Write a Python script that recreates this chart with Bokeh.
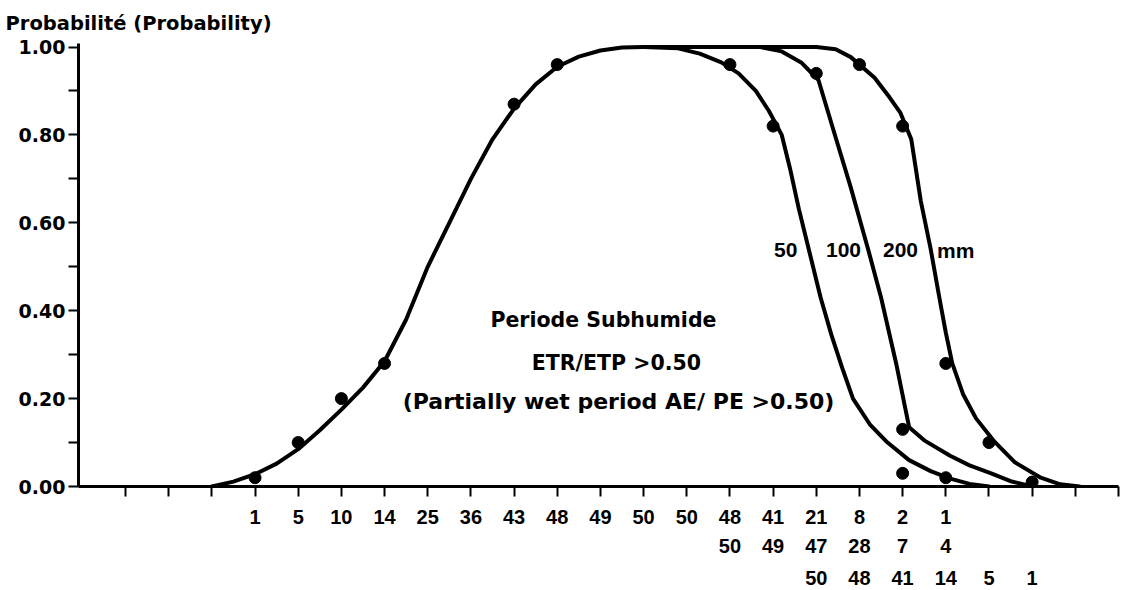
from bokeh.plotting import figure
from bokeh.models import FixedTicker, LinearAxis, Range1d
from bokeh.core.properties import value
from bokeh.embed import file_html
from bokeh.resources import INLINE

# ---------------- data ----------------
x_ticks = list(range(1, 25))
row1_ticks = list(range(4, 21))
row1_labels = ["1", "5", "10", "14", "25", "36", "43", "48", "49", "50", "50",
               "48", "41", "21", "8", "2", "1"]
row2_ticks = list(range(15, 21))
row2_labels = ["50", "49", "47", "28", "7", "4"]
row3_ticks = list(range(17, 23))
row3_labels = ["50", "48", "41", "14", "5", "1"]

y_ticks = [0.0, 0.2, 0.4, 0.6, 0.8, 1.0]
y_labels = ["0.00", "0.20", "0.40", "0.60", "0.80", "1.00"]
y_minor = [0.1, 0.3, 0.5, 0.7, 0.9]

# observed points
dots_x = [4, 5, 6, 7, 10, 11, 15, 16, 17, 18, 19, 19, 19, 20, 20, 21, 22]
dots_p = [0.02, 0.10, 0.20, 0.28, 0.87, 0.96, 0.96, 0.82, 0.94, 0.96, 0.82,
          0.13, 0.03, 0.28, 0.02, 0.10, 0.01]

# fitted curves
rise_x = [3.0, 3.5, 4.0, 4.5, 5.0, 5.5, 6.0, 6.5, 7.0, 7.5, 8.0, 8.5, 9.0,
          9.5, 10.0, 10.5, 11.0, 11.5, 12.0, 12.5, 13.0]
rise_p = [0.0, 0.011, 0.028, 0.052, 0.085, 0.128, 0.175, 0.225, 0.285, 0.38,
          0.50, 0.60, 0.70, 0.79, 0.86, 0.915, 0.955, 0.978, 0.992, 0.999, 1.0]

c50_x = [13.0, 13.8, 14.3, 14.8, 15.2, 15.6, 15.9, 16.2, 16.4, 16.6, 16.85,
         17.1, 17.35, 17.6, 17.85, 18.25, 18.65, 19.15, 19.65, 20.1, 20.55, 21.0]
c50_p = [1.0, 0.997, 0.985, 0.965, 0.94, 0.90, 0.855, 0.80, 0.72, 0.63, 0.53,
         0.43, 0.345, 0.27, 0.20, 0.14, 0.10, 0.06, 0.035, 0.018, 0.006, 0.0]

c100_x = [13.0, 15.7, 16.2, 16.65, 17.05, 17.4, 17.8, 18.2, 18.5, 18.85, 19.15,
          19.5, 20.1, 20.55, 21.05, 21.5, 22.0]
c100_p = [1.0, 1.0, 0.99, 0.965, 0.925, 0.81, 0.68, 0.54, 0.43, 0.28, 0.135,
          0.105, 0.07, 0.048, 0.03, 0.012, 0.0]

c200_x = [13.0, 17.0, 17.45, 17.8, 18.35, 18.7, 18.95, 19.2, 19.42, 19.65,
          19.85, 20.0, 20.15, 20.4, 20.7, 21.1, 21.6, 22.2, 22.65, 23.1]
c200_p = [1.0, 1.0, 0.995, 0.977, 0.93, 0.885, 0.85, 0.79, 0.65, 0.54, 0.43,
          0.35, 0.28, 0.21, 0.155, 0.105, 0.055, 0.02, 0.005, 0.0]

curve_labels = ["50", "100", "200", "mm"]
notes = ["Periode Subhumide", "ETR/ETP >0.50"]
note_wide = "(Partially wet period AE/ PE >0.50)"

# ---------------- figure ----------------
p = figure(width=1126, height=587,
           x_range=Range1d(-0.089, 24), y_range=Range1d(0, 1.008),
           output_backend="svg", toolbar_location=None,
           min_border_left=78, min_border_right=8,
           min_border_top=0, min_border_bottom=101,
           background_fill_color="white", border_fill_color="white")
p.grid.visible = False
p.outline_line_color = None

p.title.text = "Probabilité (Probability)"
p.title.align = "left"
p.title.offset = -73
p.title.standoff = 18
p.title.text_font = "DejaVu Sans"
p.title.text_font_style = "bold"
p.title.text_font_size = "19.5px"
p.title.text_color = "black"

# x axis (row 1, with ticks)
xa = p.below[0]
xa.ticker = FixedTicker(ticks=x_ticks)
xa.major_label_overrides = {t: "" for t in x_ticks}
xa.major_label_overrides.update(dict(zip(row1_ticks, row1_labels)))
xa.axis_line_width = 3
xa.axis_line_color = "black"
xa.major_tick_line_width = 2
xa.major_tick_line_color = "black"
xa.major_tick_out = 10
xa.major_tick_in = 0
xa.minor_tick_line_color = None
xa.major_label_standoff = 13
xa.major_label_text_font = "Liberation Sans"
xa.major_label_text_font_style = "bold"
xa.major_label_text_font_size = "20px"
xa.major_label_text_color = "black"

for tks, lbls, sto in ((row2_ticks, row2_labels, 12), (row3_ticks, row3_labels, 15)):
    ax = LinearAxis(ticker=FixedTicker(ticks=tks),
                    major_label_overrides=dict(zip(tks, lbls)),
                    axis_line_color=None, major_tick_line_color=None,
                    minor_tick_line_color=None, major_tick_out=0, major_tick_in=0,
                    major_label_standoff=sto,
                    major_label_text_font="Liberation Sans",
                    major_label_text_font_style="bold",
                    major_label_text_font_size="20px",
                    major_label_text_color="black")
    p.add_layout(ax, "below")

# y axis
ya = p.left[0]
ya.ticker = FixedTicker(ticks=y_ticks, minor_ticks=y_minor)
ya.major_label_overrides = dict(zip(y_ticks, y_labels))
ya.axis_line_width = 3
ya.axis_line_color = "black"
ya.major_tick_line_width = 2
ya.minor_tick_line_width = 2
ya.major_tick_line_color = "black"
ya.minor_tick_line_color = "black"
ya.major_tick_out = 10
ya.major_tick_in = 0
ya.minor_tick_out = 10
ya.minor_tick_in = 0
ya.major_label_standoff = 3
ya.major_label_text_font = "DejaVu Sans"
ya.major_label_text_font_style = "bold"
ya.major_label_text_font_size = "19px"
ya.major_label_text_color = "black"

# curves
for xs, ps in ((rise_x, rise_p), (c50_x, c50_p), (c100_x, c100_p), (c200_x, c200_p)):
    p.line(xs, ps, line_width=4, line_color="black",
           line_join="round", line_cap="round")

p.scatter(dots_x, dots_p, size=12, color="black")

# curve labels
p.text(x=[16.29, 17.63, 18.95, 20.23], y=[0.538] * 4, text=curve_labels,
       text_font=value("Liberation Sans"), text_font_style="bold",
       text_font_size="21px", text_align="center", text_baseline="middle",
       text_color="black")

# annotation
p.text(x=[12.07, 12.37], y=[0.378, 0.282], text=notes,
       text_font=value("DejaVu Sans"), text_font_style="bold",
       text_font_size="20.5px", text_align="center", text_baseline="middle",
       text_color="black")
p.text(x=[12.42], y=[0.194], text=[note_wide],
       text_font=value("DejaVu Sans"), text_font_style="bold",
       text_font_size="22px", text_align="center", text_baseline="middle",
       text_color="black")

open("out.html", "w").write(file_html(p, INLINE))
